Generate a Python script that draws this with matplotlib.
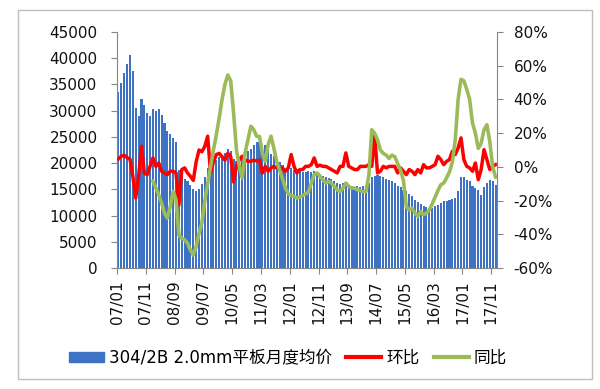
import numpy as np
from matplotlib import pyplot as plt
from matplotlib.patches import Patch, Rectangle
from matplotlib.lines import Line2D
from matplotlib.ticker import FuncFormatter

plt.rcParams['font.family'] = ['DejaVu Sans', 'Noto Sans CJK SC']

# monthly data 2007/01 - 2017/12
start_year = 2007
n_months = 132
tick_step = 10

# 304/2B 2.0mm plate monthly average price (yuan/ton)
price = [33600, 35200, 37100, 38900, 40600, 37600, 30600, 29000, 32200, 31100,
         29600, 29000, 30300, 30000, 30400, 29200, 27600, 26200, 25500, 24800,
         24000, 18600, 18300, 17000, 16600, 15800, 15000, 14600, 15000, 16000,
         17400, 19000, 20000, 20300, 20600, 21200, 21300, 21900, 22600, 22300,
         20800, 20500, 20600, 20900, 21400, 22300, 22600, 23500, 24100, 24000,
         23300, 23400, 22600, 21800, 21400, 20800, 20300, 19600, 18900, 18800,
         19000, 18600, 18800, 18500, 18400, 18400, 18500, 18400, 18500, 18400,
         17900, 17600, 17300, 17100, 16900, 16600, 16300, 16100, 16200, 15900,
         15800, 15700, 15500, 15600, 15500, 15600, 15700, 16200, 17300, 17600,
         17700, 17500, 17300, 17000, 16800, 16500, 16200, 15700, 15500, 14900,
         14600, 14200, 13700, 13000, 12500, 12200, 11900, 11700, 11500, 11500,
         11800, 12100, 12400, 12700, 12700, 13000, 13100, 13300, 14600, 17400,
         17300, 16800, 16500, 15700, 15200, 14900, 14000, 15500, 16300, 16800,
         16500, 15800]

# month-on-month change, %
mom = [4.7, 6.3, 6.9, 5.5, 4.7, -5.6, -18.5, -5.6, 12.2, -3.6,
       -4.6, 0.3, 5.3, 0.3, 2.3, -2.6, -3.6, -4.6, -2.6, -2.6,
       -3.6, -22.5, -1.6, -0.6, -3.6, -5.6, -8.0, 3.0, 10.0, 9.0,
       12.2, 18.2, -3.6, 3.0, 7.3, 8.0, 6.0, 4.0, 8.0, 6.3,
       -9.0, 0.3, 4.3, 6.3, 4.3, 3.3, 3.3, 4.0, 3.5, 4.0,
       -3.6, 0.3, -2.6, -0.6, 0.3, -0.6, -1.6, -0.6, -2.6, -0.6,
       7.3, 0.3, -3.6, -1.6, -1.6, 0.3, 0.3, 1.3, 5.3, 0.3,
       1.0, 0.3, 0.3, -0.6, -1.6, -2.6, -3.6, 0.3, 0.3, 8.3,
       0.3, -0.6, -1.6, -1.6, 0.3, 0.3, 0.3, 1.3, 0.3, 19.0,
       -3.6, -2.6, 0.3, -0.6, 0.3, 0.3, 0.3, -3.6, -0.6, -2.6,
       -4.6, -1.6, -2.6, -4.6, -1.6, -3.6, 1.3, -0.6, -0.6, 0.3,
       1.3, 6.3, 4.3, 1.3, 3.3, 4.3, 9.3, 7.3, 11.2, 17.2,
       4.3, 0.3, -0.6, -2.6, 2.3, -7.6, -1.6, 10.2, 4.3, -1.6,
       0.3, 1.3]

# year-on-year change, %, starts 2008/01
yoy = [None] * 12 + [
       -8.6, -12.6, -16.5, -21.5, -27.4, -30.4, -23.5, -14.6, -19.5,
       -40.4, -42.3, -43.3, -45.3, -49.3, -52.3, -47.3, -39.3, -33.0, -20.0,
       -10.0, 0.0, 10.0, 19.0, 29.0, 40.0, 49.0, 54.5, 51.0, 32.0,
       10.0, 0.3, -6.6, 8.3, 16.2, 24.1, 22.1, 18.2, 18.0, 8.0,
       3.3, 13.2, 18.2, 11.0, 3.0, -2.0, -7.0, -12.6, -16.0, -17.0,
       -17.5, -18.5, -18.0, -17.0, -16.0, -15.0, -9.6, -4.6, -3.6, -5.6,
       -7.6, -9.6, -8.6, -9.6, -11.6, -13.6, -14.6, -12.6, -9.6, -11.6,
       -12.6, -12.6, -13.6, -14.0, -14.6, -14.6, -5.0, 22.0, 20.0, 16.0,
       10.0, 8.0, 7.0, 5.0, 7.0, 6.0, 2.0, -2.0, -8.0, -23.5,
       -25.5, -24.5, -27.4, -29.4, -26.5, -28.4, -27.4, -25.5, -22.0, -18.0,
       -14.0, -10.6, -9.6, -6.5, -3.0, 3.0, 16.0, 40.0, 51.9, 51.0,
       46.0, 40.0, 26.0, 20.0, 11.0, 14.0, 22.0, 25.0, 15.0, 0.0,
       -6.0]

yoy = np.array(yoy, dtype=float)
x = np.arange(n_months) + 0.5
tick_pos = np.arange(0, n_months, tick_step)
tick_labels = [f"{(start_year + i // 12) % 100:02d}/{i % 12 + 1:02d}" for i in tick_pos]

bar_color = '#3D72C4'
red = '#FF0000'
green = '#9BBB59'
axis_color = '#868686'

fig = plt.figure(figsize=(6, 3.89), dpi=100)
fig.patches.append(Rectangle((0.03, 0.0257), 0.957, 0.9486, transform=fig.transFigure,
                             fill=False, edgecolor='#BFBFBF', linewidth=1))

ax = fig.add_axes([0.195, 0.311, 0.6333, 0.6067])
ax.bar(x, price, width=0.72, color=bar_color, linewidth=0)
ax.set_xlim(0, n_months)
ax.set_ylim(0, 45000)
ax.set_yticks(np.arange(0, 45001, 5000))
ax.set_xticks(tick_pos)
ax.set_xticklabels(tick_labels, rotation=90)

ax2 = ax.twinx()
ax2.plot(x, mom, color=red, linewidth=2.5, solid_joinstyle='round')
ax2.plot(x, yoy, color=green, linewidth=2.6, solid_joinstyle='round')
ax2.set_ylim(-60, 80)
ax2.set_yticks(np.arange(-60, 81, 20))
ax2.yaxis.set_major_formatter(FuncFormatter(lambda v, p: f"{v:.0f}%"))

for a in (ax, ax2):
    for s in a.spines.values():
        s.set_visible(False)
    a.tick_params(colors=axis_color, labelcolor='#111111', labelsize=11, length=4)
ax.spines['left'].set_visible(True)
ax.spines['bottom'].set_visible(True)
ax2.spines['right'].set_visible(True)
for s in (ax.spines['left'], ax.spines['bottom'], ax2.spines['right']):
    s.set_color(axis_color)
ax.tick_params(axis='y', pad=10)
ax.tick_params(axis='x', pad=5)
ax2.tick_params(axis='y', pad=8)

handles = [Patch(color=bar_color),
           Line2D([], [], color=red, linewidth=3),
           Line2D([], [], color=green, linewidth=3)]
labels = ['304/2B 2.0mm平板月度均价', '环比', '同比']
fig.legend(handles, labels, loc='center', bbox_to_anchor=(0.48, 0.08), ncol=3,
           frameon=False, fontsize=12, handlelength=2.1, handleheight=0.6,
           handletextpad=0.3, columnspacing=0.85)

fig.savefig('out.png', dpi=100)
